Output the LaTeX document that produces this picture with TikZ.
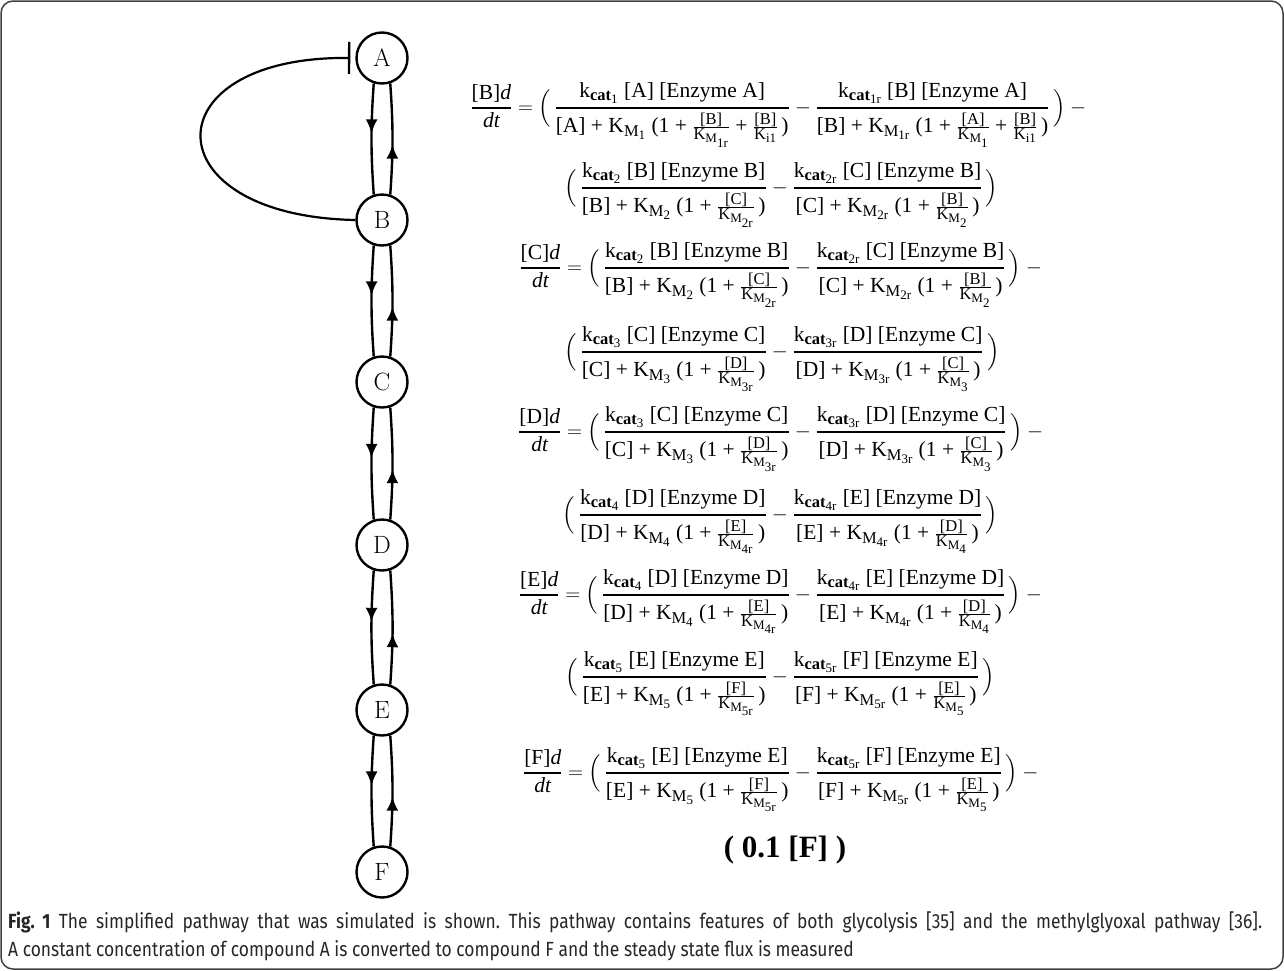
\documentclass[tikz,border=0pt]{standalone}
\usepackage{amsmath}
\usepackage{fontspec}
\setmainfont{Liberation Serif}
\newfontfamily\capfont[FakeStretch=0.85]{Fira Sans}
\usetikzlibrary{arrows.meta,decorations.markings}
\DeclareMathSizes{21.5}{21.5}{16.5}{13}
\frenchspacing

% building blocks of the rate equations
\newcommand\tx[1]{\text{#1}}
\newcommand\kcat[1]{\tx{k}_{\tx{\bfseries cat}_{\tx{#1}}}}
\newcommand\KM[1]{\tx{K}_{\tx{M}_{\tx{#1}}}}
\newcommand\KI{\tx{K}_{\tx{i1}}}
\newcommand\eqfrac[2]{\genfrac{}{}{1.3pt}{0}{#1}{#2}}
\newcommand\infrac[2]{\genfrac{}{}{0.9pt}{1}{#1}{#2}}
\newcommand\lhs[1]{\eqfrac{\tx{[#1]\itshape d}}{\tx{\itshape dt}}}
% forward / reverse reversible Michaelis-Menten terms: step, substrate, product, enzyme
\newcommand\fwdrate[4]{\eqfrac{\kcat{#1}\tx{ [#2] [Enzyme #4]}}{\tx{[#2] + }\KM{#1}\tx{ (1 + }\infrac{\tx{[#3]}}{\KM{#1r}}\tx{\,)}}}
\newcommand\revrate[4]{\eqfrac{\kcat{#1r}\tx{ [#3] [Enzyme #4]}}{\tx{[#3] + }\KM{#1r}\tx{ (1 + }\infrac{\tx{[#2]}}{\KM{#1}}\tx{\,)}}}

\tikzset{
  met/.style={circle, draw, line width=2.4pt, minimum size=51pt, inner sep=0pt,
    font=\fontfamily{lmr}\fontsize{25}{30}\selectfont},
  flow/.style={line width=2.4pt, postaction={decorate},
    decoration={markings, mark=at position 0.45 with {\arrow{Latex[length=14pt,width=12pt]}}}},
  inhib/.style={line width=2.2pt, -{Bar[width=32pt,line width=2.4pt]}, shorten >=5pt},
  eq/.style={inner sep=0pt, font=\fontsize{21.5}{26}\selectfont},
  captext/.style={inner sep=0pt, text=black!85, font=\capfont\fontsize{20.5}{25}\selectfont},
}

\begin{document}
\begin{tikzpicture}[x=1pt,y=-1pt]
\useasboundingbox (0,0) rectangle (1284,970);
\draw[black!75, line width=1.5pt, rounded corners=12pt] (1,1) rectangle (1283,969);

% pathway
\node[met] (A) at (382,58) {A};
\node[met] (B) at (382,220) {B};
\node[met] (C) at (382,382) {C};
\node[met] (D) at (382,545) {D};
\node[met] (E) at (382,710) {E};
\node[met] (F) at (382,872) {F};
\foreach \u/\v in {A/B,B/C,C/D,D/E,E/F}{
  \draw[flow] (\u.252) to[bend right=4] (\v.108);
  \draw[flow] (\v.72) to[bend right=4] (\u.288);
}
\draw[inhib] (B.west) .. controls (150,216) and (150,56) .. (A.west);

% d[B]/dt
\node[eq, anchor=base east] (eqB) at (790,113.25)
  {$\lhs{B} = \Bigl(\,\eqfrac{\kcat{1}\tx{ [A] [Enzyme A]}}{\tx{[A] + }\KM{1}\tx{ (1 + }\infrac{\tx{[B]}}{\KM{1r}}\tx{ + }\infrac{\tx{[B]}}{\KI}\tx{\,)}}$};
\node[eq, anchor=base west] (eqBr) at (790,113.25)
  {${}-\eqfrac{\kcat{1r}\tx{ [B] [Enzyme A]}}{\tx{[B] + }\KM{1r}\tx{ (1 + }\infrac{\tx{[A]}}{\KM{1}}\tx{ + }\infrac{\tx{[B]}}{\KI}\tx{\,)}}\,\Bigr)-{}$};
\node[eq, anchor=base east] (eqB2) at (767,193.25) {$\Bigl(\,\fwdrate{2}{B}{C}{B}$};
\node[eq, anchor=base west] (eqB2r) at (767,193.25) {${}-\revrate{2}{B}{C}{B}\,\Bigr)$};

% d[C]/dt
\node[eq, anchor=base east] (eqC) at (790,273.25) {$\lhs{C} = \Bigl(\,\fwdrate{2}{B}{C}{B}$};
\node[eq, anchor=base west] (eqCr) at (790,273.25) {${}-\revrate{2}{B}{C}{B}\,\Bigr)-{}$};
\node[eq, anchor=base east] (eqC2) at (767,357.25) {$\Bigl(\,\fwdrate{3}{C}{D}{C}$};
\node[eq, anchor=base west] (eqC2r) at (767,357.25) {${}-\revrate{3}{C}{D}{C}\,\Bigr)$};

% d[D]/dt
\node[eq, anchor=base east] (eqD) at (790,437.25) {$\lhs{D} = \Bigl(\,\fwdrate{3}{C}{D}{C}$};
\node[eq, anchor=base west] (eqDr) at (790,437.25) {${}-\revrate{3}{C}{D}{C}\,\Bigr)-{}$};
\node[eq, anchor=base east] (eqD2) at (767,520.25) {$\Bigl(\,\fwdrate{4}{D}{E}{D}$};
\node[eq, anchor=base west] (eqD2r) at (767,520.25) {${}-\revrate{4}{D}{E}{D}\,\Bigr)$};

% d[E]/dt
\node[eq, anchor=base east] (eqE) at (790,600.25) {$\lhs{E} = \Bigl(\,\fwdrate{4}{D}{E}{D}$};
\node[eq, anchor=base west] (eqEr) at (790,600.25) {${}-\revrate{4}{D}{E}{D}\,\Bigr)-{}$};
\node[eq, anchor=base east] (eqE2) at (767,682.25) {$\Bigl(\,\fwdrate{5}{E}{F}{E}$};
\node[eq, anchor=base west] (eqE2r) at (767,682.25) {${}-\revrate{5}{E}{F}{E}\,\Bigr)$};

% d[F]/dt
\node[eq, anchor=base east] (eqF) at (790,778.25) {$\lhs{F} = \Bigl(\,\fwdrate{5}{E}{F}{E}$};
\node[eq, anchor=base west] (eqFr) at (790,778.25) {${}-\revrate{5}{E}{F}{E}\,\Bigr)-{}$};
\node[inner sep=0pt, font=\fontsize{31}{36}\selectfont\bfseries] (out) at (785,850) {( 0.1 [F] )};

% caption
\node[captext, anchor=base west] (cap1) at (8,928)
  {\makebox[1254pt][s]{\textbf{Fig. 1} The simplified pathway that was simulated is shown. This pathway contains features of both glycolysis [35] and the methylglyoxal pathway [36].}};
\node[captext, anchor=base west] (cap2) at (8,956)
  {A constant concentration of compound A is converted to compound F and the steady state flux is measured};
\end{tikzpicture}
\end{document}
